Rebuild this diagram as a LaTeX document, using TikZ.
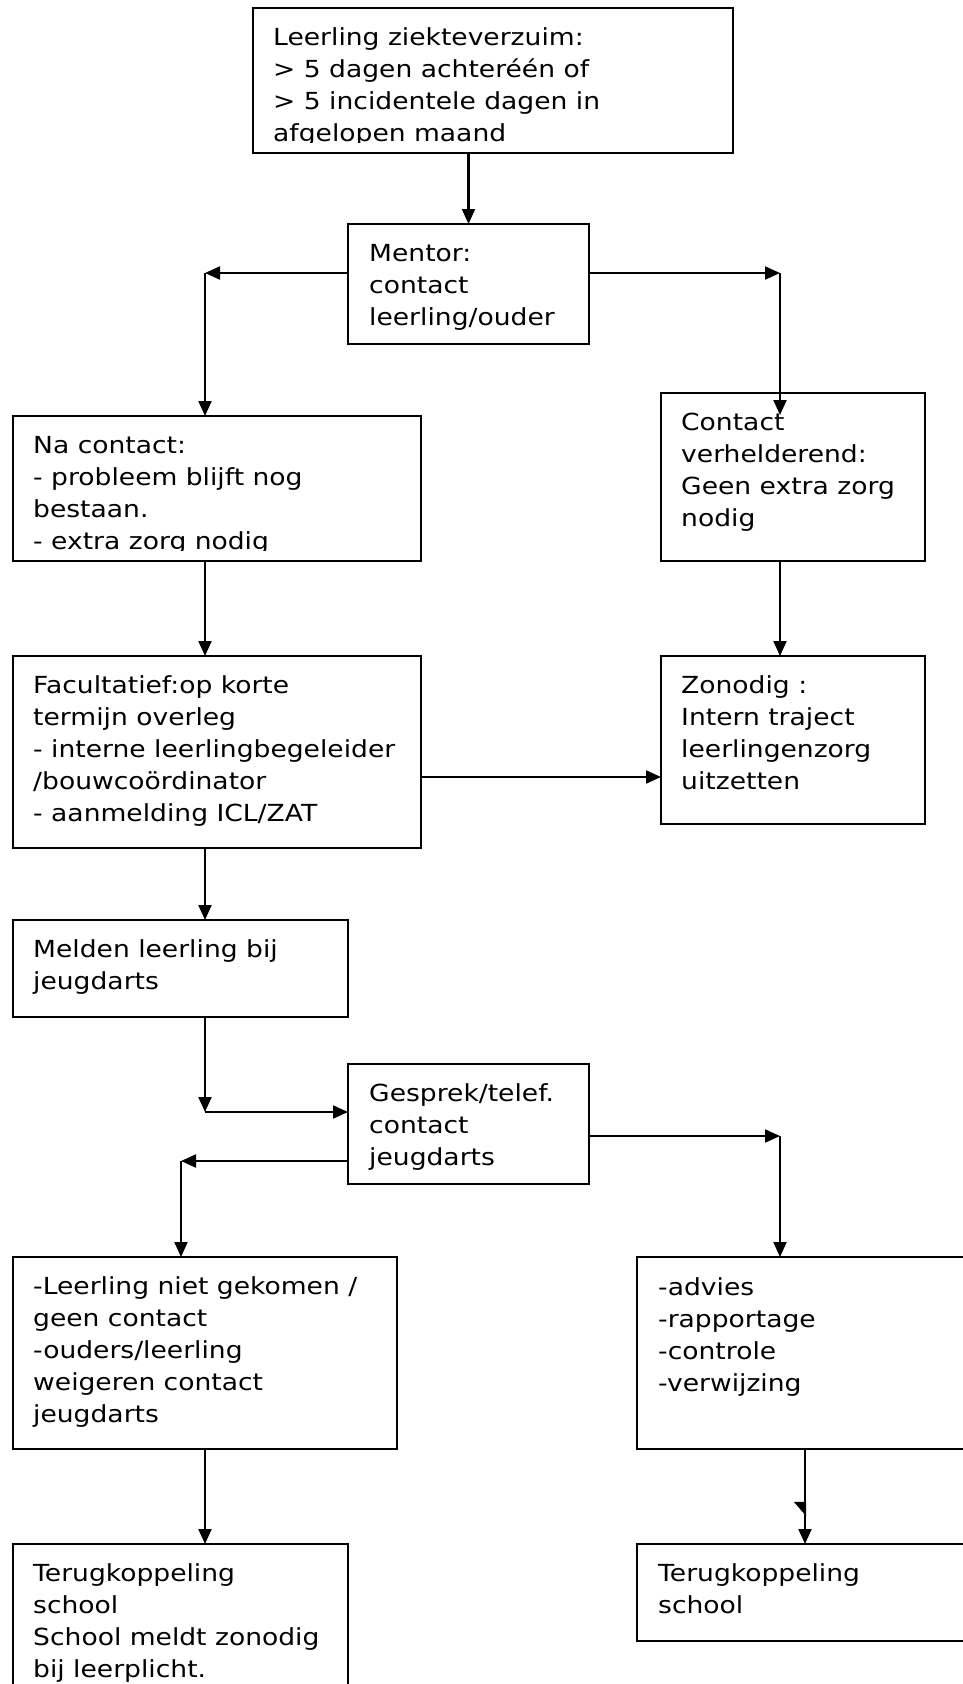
\documentclass[tikz,border=0pt]{standalone}
\usepackage{fontspec}
\setmainfont[FakeStretch=1.13]{DejaVu Sans}
\usetikzlibrary{arrows.meta}

\tikzset{
  box/.style={draw, line width=2pt, inner sep=0pt, outer sep=0pt, anchor=north west},
  txt/.style={anchor=base west, inner sep=0pt, font=\fontsize{23.5pt}{32pt}\selectfont},
  arr/.style={line width=2.1pt, -{Triangle[length=15pt,width=13pt]}}
}

\begin{document}
\begin{tikzpicture}[x=1pt, y=-1pt]
  \useasboundingbox (0,0) rectangle (962,1684);
  % boxes
  \node[box, minimum width=480, minimum height=145] (start) at (253,8) {};
  \node[box, minimum width=241, minimum height=120] (mentor) at (348,224) {};
  \node[box, minimum width=408, minimum height=145] (na) at (13,416) {};
  \node[box, minimum width=264, minimum height=168] (verh) at (661,393) {};
  \node[box, minimum width=408, minimum height=192] (fac) at (13,656) {};
  \node[box, minimum width=264, minimum height=168] (zon) at (661,656) {};
  \node[box, minimum width=335, minimum height=97] (melden) at (13,920) {};
  \node[box, minimum width=241, minimum height=120] (gesprek) at (348,1064) {};
  \node[box, minimum width=384, minimum height=192] (niet) at (13,1257) {};
  \node[box, minimum width=340, minimum height=192] (advies) at (637,1257) {};
  \node[box, minimum width=335, minimum height=200] (terugl) at (13,1544) {};
  \node[box, minimum width=340, minimum height=97] (terugr) at (637,1544) {};

  % texts
  \begin{scope}
    \clip (start.north west) rectangle ([yshift=11pt]start.south east);
    \node[txt] (startt) at ([shift={(20pt,-37pt)}]start.north west) {\parbox[t]{500pt}{Leerling ziekteverzuim:\\> 5 dagen achteréén of\\> 5 incidentele dagen in\\afgelopen maand}};
  \end{scope}
  \node[txt] (mentort) at ([shift={(21pt,-37pt)}]mentor.north west) {\parbox[t]{300pt}{Mentor:\\contact\\leerling/ouder}};
  \begin{scope}
    \clip (na.north west) rectangle ([yshift=11pt]na.south east);
    \node[txt] (nat) at ([shift={(20pt,-37pt)}]na.north west) {\parbox[t]{500pt}{Na contact:\\- probleem blijft nog\\bestaan.\\- extra zorg nodig}};
  \end{scope}
  \node[txt] (verht) at ([shift={(20pt,-37pt)}]verh.north west) {\parbox[t]{300pt}{Contact\\verhelderend:\\Geen extra zorg\\nodig}};
  \node[txt] (fact) at ([shift={(20pt,-37pt)}]fac.north west) {\parbox[t]{500pt}{Facultatief:op korte\\termijn overleg\\- interne leerlingbegeleider\\/bouwcoördinator\\- aanmelding ICL/ZAT}};
  \node[txt] (zont) at ([shift={(20pt,-37pt)}]zon.north west) {\parbox[t]{300pt}{Zonodig :\\Intern traject\\leerlingenzorg\\uitzetten}};
  \node[txt] (meldent) at ([shift={(20pt,-37pt)}]melden.north west) {\parbox[t]{400pt}{Melden leerling bij\\jeugdarts}};
  \node[txt] (gesprekt) at ([shift={(21pt,-37pt)}]gesprek.north west) {\parbox[t]{300pt}{Gesprek/telef.\\contact\\jeugdarts}};
  \node[txt] (niett) at ([shift={(20pt,-37pt)}]niet.north west) {\parbox[t]{450pt}{-Leerling niet gekomen /\\geen contact\\-ouders/leerling\\weigeren contact\\jeugdarts}};
  \node[txt] (adviest) at ([shift={(21pt,-38pt)}]advies.north west) {\parbox[t]{300pt}{-advies\\-rapportage\\-controle\\-verwijzing}};
  \node[txt] (teruglt) at ([shift={(20pt,-37pt)}]terugl.north west) {\parbox[t]{400pt}{Terugkoppeling\\school\\School meldt zonodig\\bij leerplicht.}};
  \node[txt] (terugrt) at ([shift={(21pt,-37pt)}]terugr.north west) {\parbox[t]{300pt}{Terugkoppeling\\school}};

  % corners
  \coordinate (ml) at (205,273);
  \coordinate (mr) at (780,273);
  \coordinate (mrend) at (780,415);
  \coordinate (fz) at (421,777);
  \coordinate (mg) at (205,1112);
  \coordinate (gr) at (780,1136);
  \coordinate (gl) at (181,1161);
  \coordinate (ar) at (805,1449);
  \coordinate (arhalf) at (805,1516);

  % connectors
  \draw[arr] (mentor.north |- start.south) -- (mentor.north);
  \draw[arr] (mentor.west |- ml) -- (ml);
  \draw[arr] (ml) -- (ml |- na.north);
  \draw[arr] (mentor.east |- mr) -- (mr);
  \draw[arr] (mr) -- (mrend);
  \draw[arr] (ml |- na.south) -- (ml |- fac.north);
  \draw[arr] (mr |- verh.south) -- (mr |- zon.north);
  \draw[arr] (fac.east |- fz) -- (zon.west |- fz);
  \draw[arr] (ml |- fac.south) -- (ml |- melden.north);
  \draw[arr] (ml |- melden.south) -- (mg);
  \draw[arr] (mg) -- (gesprek.west |- mg);
  \draw[arr] (gesprek.east |- gr) -- (gr);
  \draw[arr] (gr) -- (gr |- advies.north);
  \draw[arr] (gesprek.west |- gl) -- (gl);
  \draw[arr] (gl) -- (gl |- niet.north);
  \draw[arr] (ml |- niet.south) -- (ml |- terugl.north);
  \draw[line width=2.1pt, -{Triangle[right,length=13pt,width=22pt]}] (ar |- advies.south) -- (arhalf);
  \draw[arr] (ar |- advies.south) -- (ar |- terugr.north);
\end{tikzpicture}
\end{document}
